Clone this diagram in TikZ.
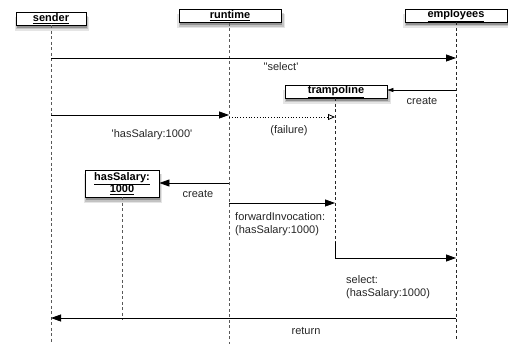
\documentclass[tikz,border=0pt]{standalone}
\usepackage{fontspec}
\setmainfont{Liberation Sans}[Ligatures=TeXOff]
\usetikzlibrary{arrows.meta,shadows}
\begin{document}
\begin{tikzpicture}[x=1pt,y=-1pt,
  obj/.style={draw=black,line width=0.8pt,fill=white,inner sep=0pt,align=center,
    font=\fontsize{11}{12.5}\selectfont\bfseries,
    general shadow={shadow xshift=1pt,shadow yshift=-5pt,shadow scale=1.06,opacity=0.10,fill=black},
    general shadow={shadow xshift=1pt,shadow yshift=-4pt,shadow scale=1.03,opacity=0.15,fill=black},
    general shadow={shadow xshift=1pt,shadow yshift=-3pt,opacity=0.25,fill=black}},
  life/.style={draw=black!65,line width=0.8pt,dash pattern=on 3pt off 2.5pt},
  msg/.style={draw=black,line width=0.8pt,-{Triangle[length=10pt,width=7pt]}},
  lab/.style={font=\fontsize{11}{13}\selectfont,inner sep=0pt,text=black!85}]
\useasboundingbox (0,0) rectangle (508,347);
% objects
\node[obj,minimum width=70pt,minimum height=13pt] (sender) at (51,18.5) {\underline{sender}};
\node[obj,minimum width=102pt,minimum height=13pt] (runtime) at (230,16) {\underline{runtime}};
\node[obj,minimum width=102pt,minimum height=13pt] (employees) at (456,15.5) {\underline{employees}};
\node[obj,minimum width=102pt,minimum height=13pt] (tramp) at (336,91.5) {\underline{trampoline}};
\node[obj,minimum width=74pt,minimum height=27pt] (hs) at (122,183.5) {\underline{hasSalary:}\\\underline{1000}};
% lifeline ends
\coordinate (sEnd) at (51,344);
\coordinate (rEnd) at (229,344);
\coordinate (eEnd) at (456,341);
\coordinate (tEnd) at (335,242);
\coordinate (hEnd) at (122,320);
\draw[life] (sender.south -| sEnd) -- (sEnd);
\draw[life] (runtime.south -| rEnd) -- (rEnd);
\draw[life,draw=black!85] (employees.south -| eEnd) -- (eEnd);
\draw[life,draw=black!85] (tramp.south -| tEnd) -- (tEnd);
\draw[life] (hs.south -| hEnd) -- (hEnd);
% message points
\coordinate (m1a) at (51,58);  \coordinate (m1b) at (456,58);
\coordinate (m2a) at (51,115); \coordinate (m2b) at (229,115);
\coordinate (m3a) at (229,117); \coordinate (m3b) at (335,117);
\coordinate (m4a) at (456,90);
\coordinate (m5a) at (229,183);
\coordinate (m6a) at (229,203); \coordinate (m6b) at (335,203);
\coordinate (m7b) at (456,258);
\coordinate (m8a) at (456,318); \coordinate (m8b) at (51,318);
% messages
\draw[msg] (m1a) -- (m1b);
\draw[msg] (m2a) -- (m2b);
\draw[line width=0.8pt,dotted,-{Triangle[open,length=7pt,width=6pt]}] (m3a) -- (m3b);
\draw[line width=0.8pt,-{Triangle[length=6pt,width=4pt]}] (m4a) -- (m4a -| tramp.east);
\draw[msg] (m5a) -- (m5a -| hs.east);
\draw[msg] (m6a) -- (m6b);
\draw[msg] (tEnd) |- (m7b);
\draw[msg] (m8a) -- (m8b);
% labels
\node[lab] (l1) at (281,67) {\symbol{34}select'};
\node[lab] (l2) at (152,135) {'hasSalary:1000'};
\node[lab] (l3) at (289,131) {(failure)};
\node[lab] (l4) at (422,101) {create};
\node[lab] (l5) at (198,194) {create};
\node[lab,anchor=north west,align=left] (l6) at (235,212) {forwardInvocation:\\(hasSalary:1000)};
\node[lab,anchor=north west,align=left] (l7) at (346,275) {select:\\(hasSalary:1000)};
\node[lab] (l8) at (306,331) {return};
\end{tikzpicture}
\end{document}
